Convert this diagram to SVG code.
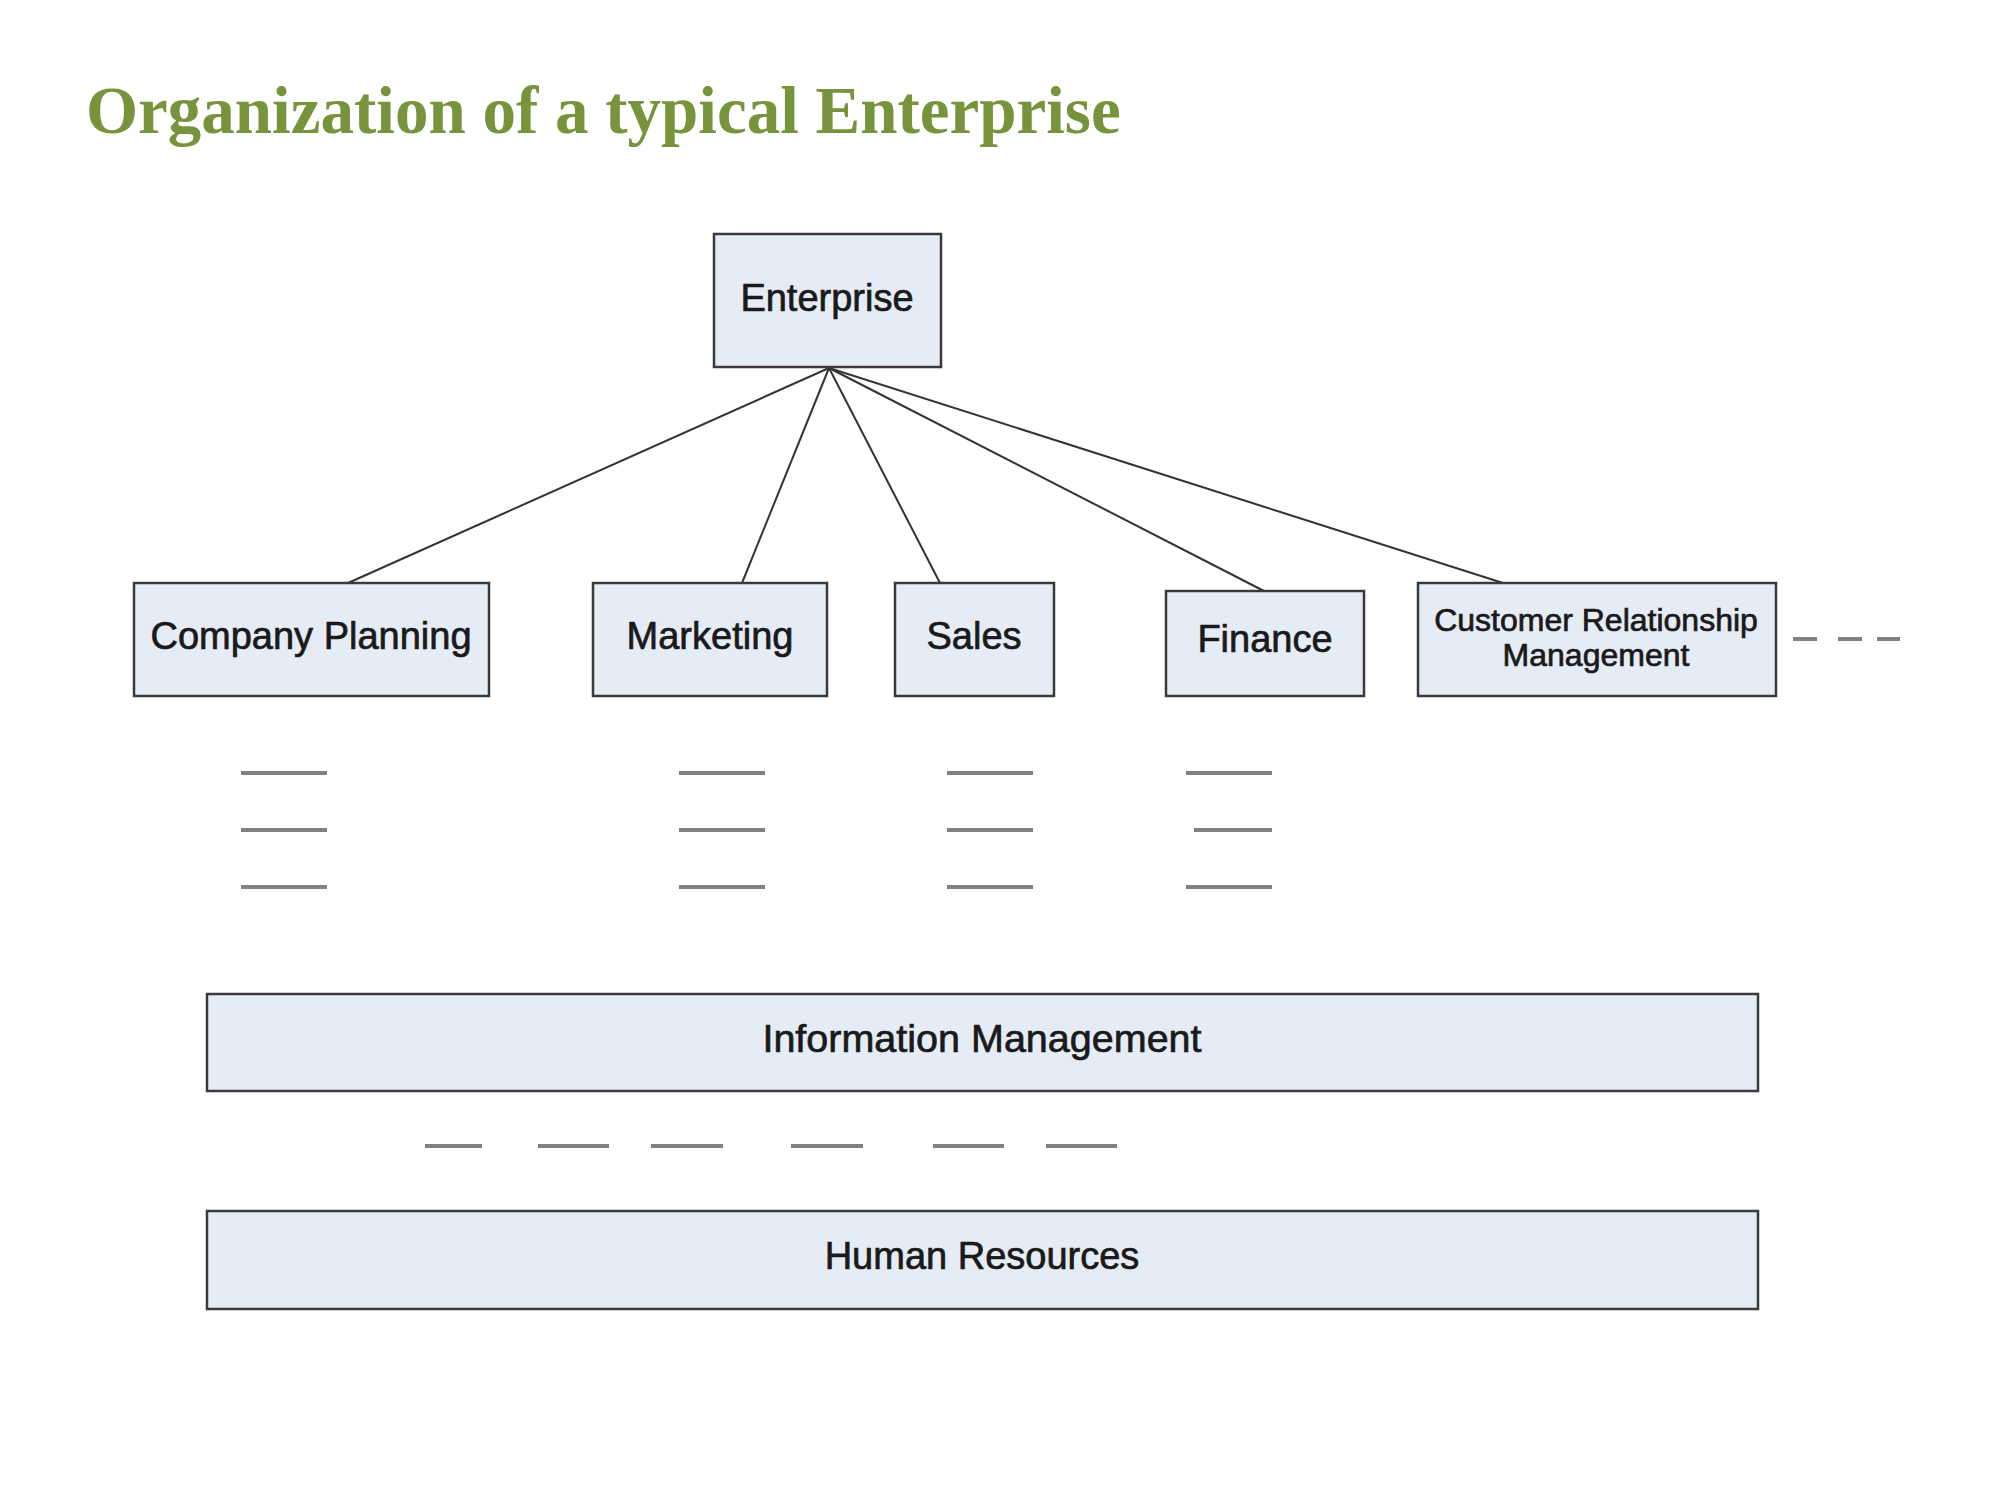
<svg xmlns="http://www.w3.org/2000/svg" width="2000" height="1500" viewBox="0 0 2000 1500">
<style>
.title{font-family:"Liberation Serif","Times New Roman",serif;font-weight:bold;font-size:67px;fill:#77933C}
.box{fill:#E6ECF6;stroke:#3a3a3a;stroke-width:2.5}
.lbl{font-family:"Liberation Sans",Arial,sans-serif;font-size:38px;fill:#1a1a1a;text-anchor:middle;stroke:#1a1a1a;stroke-width:0.7}
.sm{font-size:32px}
.conn{stroke:#333;stroke-width:2;fill:none}
.dash{stroke:#808080;stroke-width:4;fill:none}
</style>
<rect width="2000" height="1500" fill="#fff"/>
<text class="title" x="86" y="133">Organization of a typical Enterprise</text>
<g id="connectors">
<line class="conn" x1="829" y1="368" x2="348" y2="583"/>
<line class="conn" x1="829" y1="368" x2="742" y2="583"/>
<line class="conn" x1="829" y1="368" x2="940" y2="583"/>
<line class="conn" x1="829" y1="368" x2="1264" y2="591"/>
<line class="conn" x1="829" y1="368" x2="1503" y2="583"/>
</g>
<g id="enterprise"><rect class="box" x="714" y="234" width="227" height="133"/><text class="lbl" x="827" y="311">Enterprise</text></g>
<g id="company-planning"><rect class="box" x="134" y="583" width="355" height="113"/><text class="lbl" x="311" y="649">Company Planning</text></g>
<g id="marketing"><rect class="box" x="593" y="583" width="234" height="113"/><text class="lbl" x="710" y="649">Marketing</text></g>
<g id="sales"><rect class="box" x="895" y="583" width="159" height="113"/><text class="lbl" x="974" y="649">Sales</text></g>
<g id="finance"><rect class="box" x="1166" y="591" width="198" height="105"/><text class="lbl" x="1265" y="652">Finance</text></g>
<g id="crm"><rect class="box" x="1418" y="583" width="358" height="113"/><text class="lbl sm" x="1596" y="631">Customer Relationship</text><text class="lbl sm" x="1596" y="666">Management</text></g>
<g id="dashes">
<path class="dash" d="M1793 639H1817M1838 639H1862M1877 639H1900"/>
<path class="dash" d="M241 773H327M241 830H327M241 887H327"/>
<path class="dash" d="M679 773H765M679 830H765M679 887H765"/>
<path class="dash" d="M947 773H1033M947 830H1033M947 887H1033"/>
<path class="dash" d="M1186 773H1272M1194 830H1272M1186 887H1272"/>
<path class="dash" d="M425 1146H482M538 1146H609M651 1146H723M791 1146H863M933 1146H1004M1046 1146H1117"/>
</g>
<g id="information-management"><rect class="box" x="207" y="994" width="1551" height="97"/><text class="lbl" x="982" y="1052" style="font-size:39.5px">Information Management</text></g>
<g id="human-resources"><rect class="box" x="207" y="1211" width="1551" height="98"/><text class="lbl" x="982" y="1269">Human Resources</text></g>
</svg>
